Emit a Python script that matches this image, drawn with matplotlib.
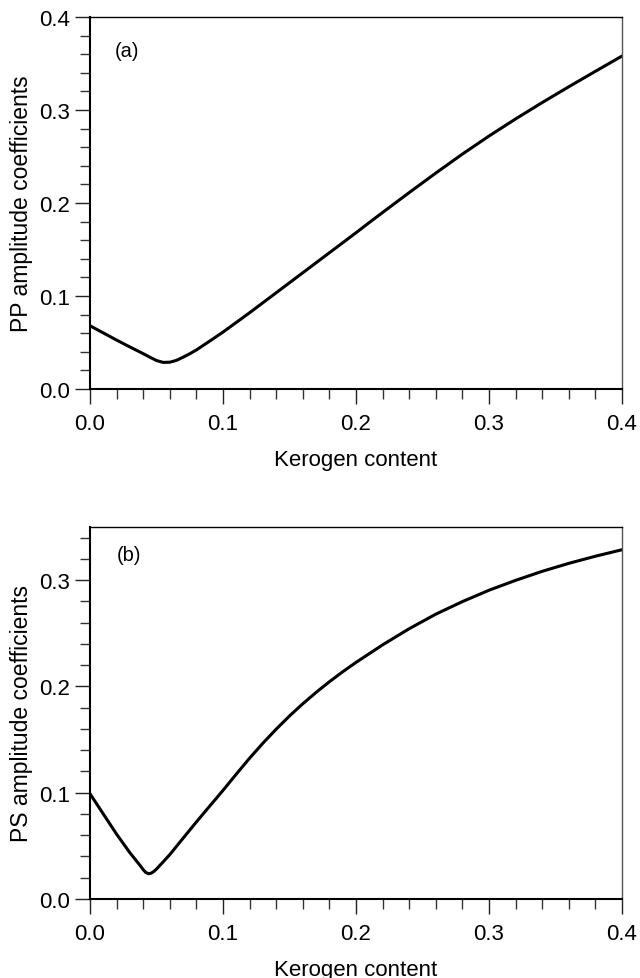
import matplotlib
matplotlib.use("Agg")
import matplotlib.pyplot as plt
from matplotlib.ticker import MultipleLocator, FormatStrFormatter

plt.rcParams['font.family'] = ['Liberation Sans', 'DejaVu Sans']

# Panel (a): PP amplitude coefficients vs kerogen content
kerogen_pp = [0.0, 0.01, 0.02, 0.03, 0.04, 0.045, 0.05, 0.055, 0.06, 0.065, 0.07, 0.075,
              0.08, 0.09, 0.10, 0.12, 0.14, 0.16, 0.18, 0.20, 0.21, 0.22, 0.24, 0.26,
              0.28, 0.30, 0.32, 0.34, 0.36, 0.38, 0.40]
pp_coef = [0.068, 0.0603, 0.0526, 0.0452, 0.0380, 0.0342, 0.0306, 0.0286, 0.0288, 0.0308,
           0.0342, 0.0379, 0.0420, 0.0515, 0.0612, 0.082, 0.1035, 0.125, 0.1465, 0.168,
           0.179, 0.1898, 0.2112, 0.2322, 0.2526, 0.2720, 0.2904, 0.3080, 0.3250,
           0.3416, 0.3580]

# Panel (b): PS amplitude coefficients vs kerogen content
kerogen_ps = [0.0, 0.01, 0.02, 0.03, 0.035, 0.038, 0.04, 0.042, 0.044, 0.046, 0.048, 0.05,
              0.055, 0.06, 0.07, 0.08, 0.09, 0.10, 0.11, 0.12, 0.13, 0.14, 0.15, 0.16,
              0.17, 0.18, 0.19, 0.20, 0.22, 0.24, 0.26, 0.28, 0.30, 0.32, 0.34, 0.36,
              0.38, 0.40]
ps_coef = [0.099, 0.080, 0.061, 0.0435, 0.0357, 0.0310, 0.0276, 0.0249, 0.0238, 0.0243,
           0.0259, 0.0282, 0.0349, 0.0418, 0.0572, 0.0725, 0.0874, 0.1022, 0.1175,
           0.1325, 0.1466, 0.1598, 0.1722, 0.1837, 0.1944, 0.2044, 0.2138, 0.2226,
           0.2391, 0.2543, 0.2680, 0.2798, 0.2905, 0.2998, 0.3083, 0.3158, 0.3225,
           0.3286]

panels = [
    dict(x=kerogen_pp, y=pp_coef, ylabel="PP amplitude coefficients", tag="(a)",
         ylim=(0, 0.4), rect=[90/640, 1-390/979, 532/640, 372/979], tagpos=(0.0695, 0.911)),
    dict(x=kerogen_ps, y=ps_coef, ylabel="PS amplitude coefficients", tag="(b)",
         ylim=(0, 0.35), rect=[90/640, 1-900/979, 532/640, 372/979], tagpos=(0.073, 0.927)),
]

fig = plt.figure(figsize=(6.40, 9.79), dpi=100)
for p in panels:
    ax = fig.add_axes(p['rect'])
    ax.plot(p['x'], p['y'], color='black', lw=2.2, solid_capstyle='round',
            solid_joinstyle='round')
    ax.set_xlim(0, 0.4)
    ax.set_ylim(*p['ylim'])
    ax.xaxis.set_major_locator(MultipleLocator(0.1))
    ax.xaxis.set_minor_locator(MultipleLocator(0.02))
    ax.yaxis.set_major_locator(MultipleLocator(0.1))
    ax.yaxis.set_minor_locator(MultipleLocator(0.02))
    ax.xaxis.set_major_formatter(FormatStrFormatter('%.1f'))
    ax.yaxis.set_major_formatter(FormatStrFormatter('%.1f'))
    ax.tick_params(which='major', direction='out', length=11, width=1.0, color='#222',
                   labelsize=16, top=False, right=False)
    ax.tick_params(which='minor', direction='out', length=7.5, width=1.0, color='#333',
                   top=False, right=False)
    ax.tick_params(axis='x', which='major', pad=6)
    ax.tick_params(axis='y', which='major', pad=3.5)
    for s in ['left', 'bottom']:
        ax.spines[s].set_linewidth(1.5)
    ax.spines['top'].set_linewidth(1.0)
    ax.spines['right'].set_linewidth(1.0)
    ax.spines['right'].set_color('#555')
    ax.set_xlabel("Kerogen content", fontsize=16)
    ax.set_ylabel(p['ylabel'], fontsize=16.5)
    ax.xaxis.set_label_coords(0.5, -0.16)
    ax.yaxis.set_label_coords(-0.108, 0.5)
    ax.text(p['tagpos'][0], p['tagpos'][1], p['tag'], transform=ax.transAxes,
            ha='center', va='center', fontsize=14.5)

fig.savefig("out.png", dpi=100)
